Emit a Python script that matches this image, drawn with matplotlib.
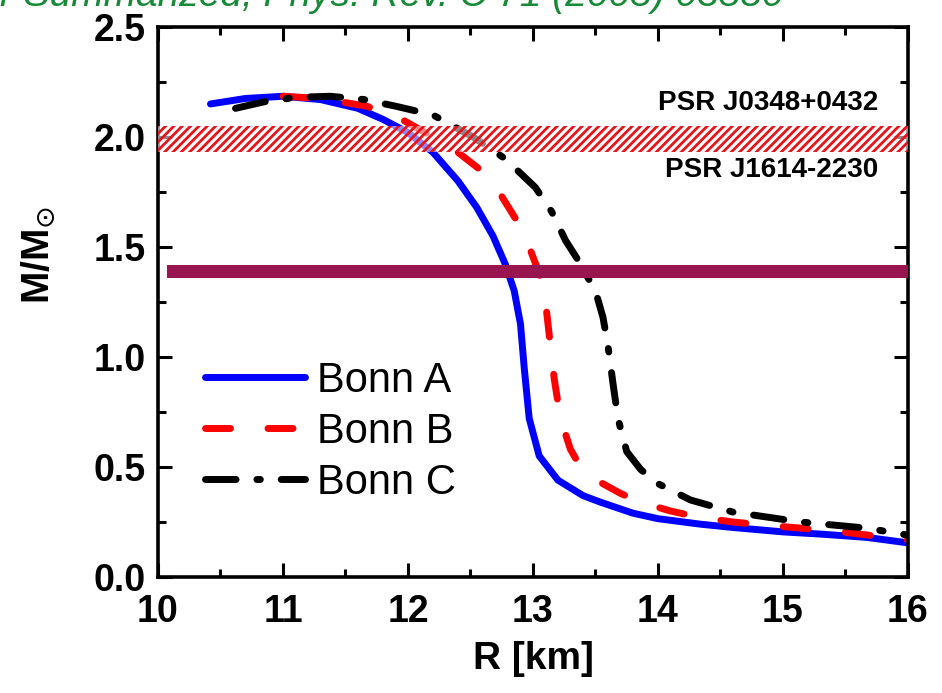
import numpy as np
import matplotlib.pyplot as plt
from matplotlib.ticker import MultipleLocator

plt.rcParams['font.family'] = ['Liberation Sans', 'DejaVu Sans']
plt.rcParams['mathtext.fontset'] = 'dejavusans'
plt.rcParams['hatch.linewidth'] = 2.0

# Bonn A
r_a = [10.42, 10.7, 11.0, 11.3, 11.6, 11.8, 12.0, 12.2, 12.4, 12.55, 12.68, 12.78, 12.85, 12.9, 12.93, 12.97,
       13.05, 13.2, 13.4, 13.54, 13.8, 14.0, 14.34, 14.6, 15.0, 15.3, 15.67, 16.0]
m_a = [2.15, 2.175, 2.185, 2.17, 2.13, 2.08, 2.02, 1.93, 1.8, 1.68, 1.55, 1.42, 1.3, 1.15, 0.95, 0.72,
       0.55, 0.44, 0.37, 0.34, 0.29, 0.265, 0.24, 0.225, 0.205, 0.195, 0.18, 0.155]
# Bonn B
r_b = [11.0, 11.3, 11.67, 11.95, 12.2, 12.4, 12.58, 12.75, 12.87, 12.97, 13.05, 13.1, 13.13, 13.17, 13.22,
       13.3, 13.38, 13.54, 13.7, 13.86, 14.1, 14.34, 14.6, 14.87, 15.4, 16.0]
m_b = [2.185, 2.175, 2.14, 2.08, 2.0, 1.93, 1.85, 1.73, 1.62, 1.5, 1.38, 1.25, 1.1, 0.9, 0.72,
       0.58, 0.5, 0.43, 0.38, 0.34, 0.3, 0.27, 0.25, 0.235, 0.21, 0.168]
# Bonn C
r_c = [10.62, 10.85, 11.1, 11.38, 11.65, 11.9, 12.2, 12.52, 12.78, 13.02, 13.15, 13.26, 13.35, 13.42, 13.5,
       13.56, 13.6, 13.64, 13.68, 13.75, 13.86, 13.98, 14.26, 14.6, 15.14, 15.67, 16.0]
m_c = [2.13, 2.16, 2.18, 2.185, 2.17, 2.14, 2.1, 2.0, 1.9, 1.77, 1.66, 1.53, 1.45, 1.38, 1.3,
       1.18, 1.05, 0.88, 0.72, 0.57, 0.49, 0.43, 0.35, 0.295, 0.25, 0.222, 0.19]

labels = ['Bonn A', 'Bonn B', 'Bonn C']

fig = plt.figure(figsize=(9.42, 6.93), dpi=100)
ax = fig.add_axes([0.1677, 0.1674, 0.7962, 0.7937])

ax.plot(r_a, m_a, color='#0000ff', lw=5, solid_capstyle='round', label=labels[0], zorder=2)
ax.plot(r_b, m_b, color='#ff0000', lw=5, dashes=(3.6, 5.4), dash_capstyle='round', label=labels[1], zorder=2)
ax.plot(r_c, m_c, color='black', lw=5, dashes=(4.4, 3.0, 0.5, 3.0), dash_capstyle='round',
        label=labels[2], zorder=2)

# pulsar band (hatched) and canonical mass band
ax.axhspan(1.93, 2.05, facecolor=(1, 1, 1, 0.55), edgecolor='#e8141c', hatch='////', lw=0, zorder=3)
ax.fill_between([10.07, 16.0], 1.36, 1.42, color='#98154f', lw=0, zorder=3)

ax.text(15.76, 2.155, 'PSR J0348+0432', fontsize=20, fontweight='bold', ha='right', va='center')
ax.text(15.76, 1.85, 'PSR J1614-2230', fontsize=20, fontweight='bold', ha='right', va='center')

ax.set_xlim(10, 16)
ax.set_ylim(0, 2.5)
ax.xaxis.set_major_locator(MultipleLocator(1))
ax.xaxis.set_minor_locator(MultipleLocator(0.5))
ax.yaxis.set_major_locator(MultipleLocator(0.5))
ax.yaxis.set_minor_locator(MultipleLocator(0.25))
ax.tick_params(which='both', direction='in', top=True, right=True, width=2.2)
ax.tick_params(which='major', length=10, labelsize=27)
ax.tick_params(axis='x', which='major', pad=12)
ax.tick_params(axis='y', which='major', pad=9)
ax.tick_params(which='minor', length=6)
for t in ax.get_xticklabels() + ax.get_yticklabels():
    t.set_fontweight('bold')
for s in ax.spines.values():
    s.set_linewidth(2.6)

ax.set_xlabel('R [km]', fontsize=28, fontweight='bold', labelpad=8)
ax.set_ylabel(r'M/M$_{\odot}$', fontsize=28, fontweight='bold')
ax.yaxis.set_label_coords(-0.135, 0.585)

leg = ax.legend(loc='center left', bbox_to_anchor=(0.04, 0.264), frameon=False, fontsize=30,
                handlelength=2.4, handletextpad=0.3, labelspacing=0.27, borderaxespad=0)

fig.text(0.0, 1 - 6 / 693, 'r Summarized, Phys. Rev. C 71 (2005) 03580', color='#168a36',
         style='italic', fontsize=28, va='baseline', ha='left')

plt.savefig('out.png', dpi=100)
